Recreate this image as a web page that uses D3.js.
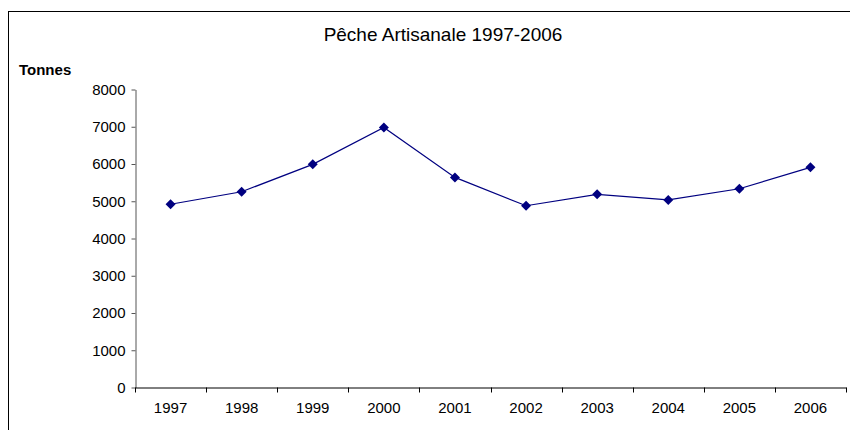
<!DOCTYPE html>
<html>
<head>
<meta charset="utf-8">
<script src="https://cdn.jsdelivr.net/npm/d3@7"></script>
<style>
  body { margin: 0; background: #fff; }
  svg text { font-family: Arial, "Liberation Sans", sans-serif; fill: #000; }
</style>
</head>
<body>
<div id="chart"></div>
<script>
// donnees
const years = ['1997', '1998', '1999', '2000', '2001', '2002', '2003', '2004', '2005', '2006'];
const tonnes = [4920, 5255, 5990, 6980, 5640, 4880, 5185, 5035, 5335, 5910];
const yTicks = [0, 1000, 2000, 3000, 4000, 5000, 6000, 7000, 8000];

const width = 850;
const height = 430;

const svg = d3.select('#chart')
  .append('svg')
  .attr('width', width)
  .attr('height', height);

// cadre
svg.append('rect')
  .attr('x', 8.5)
  .attr('y', 11.5)
  .attr('width', 900)
  .attr('height', 500)
  .attr('fill', 'none')
  .attr('stroke', '#000')
  .attr('stroke-width', 1);

const x = d3.scaleBand()
  .domain(years)
  .range([135, 846])
  .padding(0);

const y = d3.scaleLinear()
  .domain([0, 8000])
  .range([387.5, 89.5]);

// titre
svg.append('text')
  .attr('x', 443)
  .attr('y', 41)
  .attr('text-anchor', 'middle')
  .style('font-size', '19px')
  .text('Pêche Artisanale 1997-2006');

svg.append('text')
  .attr('x', 19)
  .attr('y', 75)
  .style('font-size', '15px')
  .style('font-weight', 'bold')
  .text('Tonnes');

// axe y
const yAxis = svg.append('g')
  .attr('transform', 'translate(135.5,0)')
  .call(d3.axisLeft(y).tickValues(yTicks).tickFormat(d3.format('d'))
    .tickSize(4).tickPadding(6).tickSizeOuter(0));
yAxis.select('.domain').attr('stroke', '#555');
yAxis.selectAll('.tick line').attr('stroke', '#555');
yAxis.selectAll('text')
  .style('font-size', '15px')
  .style('font-family', 'Arial, "Liberation Sans", sans-serif')
  .attr('fill', '#000');

// axe x : etiquettes au centre, graduations entre les categories
const xAxis = svg.append('g')
  .attr('transform', 'translate(0,387.5)')
  .call(d3.axisBottom(x).tickSize(0).tickPadding(15).tickSizeOuter(0));
xAxis.select('.domain').attr('stroke', '#000');
xAxis.selectAll('text')
  .style('font-size', '15px')
  .style('font-family', 'Arial, "Liberation Sans", sans-serif')
  .attr('fill', '#000');

const bounds = years.map(d => x(d)).concat([x(years[years.length - 1]) + x.bandwidth()]);
xAxis.selectAll('line.bound')
  .data(bounds)
  .join('line')
  .attr('class', 'bound')
  .attr('x1', d => Math.round(d) + 0.5)
  .attr('x2', d => Math.round(d) + 0.5)
  .attr('y1', 0)
  .attr('y2', 5)
  .attr('stroke', '#000');

// serie
const data = years.map((d, i) => ({ year: d, value: tonnes[i] }));

const line = d3.line()
  .x(d => x(d.year) + x.bandwidth() / 2)
  .y(d => y(d.value));

svg.append('path')
  .datum(data)
  .attr('d', line)
  .attr('fill', 'none')
  .attr('stroke', '#000080')
  .attr('stroke-width', 1.2);

svg.append('g')
  .selectAll('path')
  .data(data)
  .join('path')
  .attr('transform', d => `translate(${x(d.year) + x.bandwidth() / 2},${y(d.value)})`)
  .attr('d', 'M0,-5L5,0L0,5L-5,0Z')
  .attr('fill', '#000080');
</script>
</body>
</html>
